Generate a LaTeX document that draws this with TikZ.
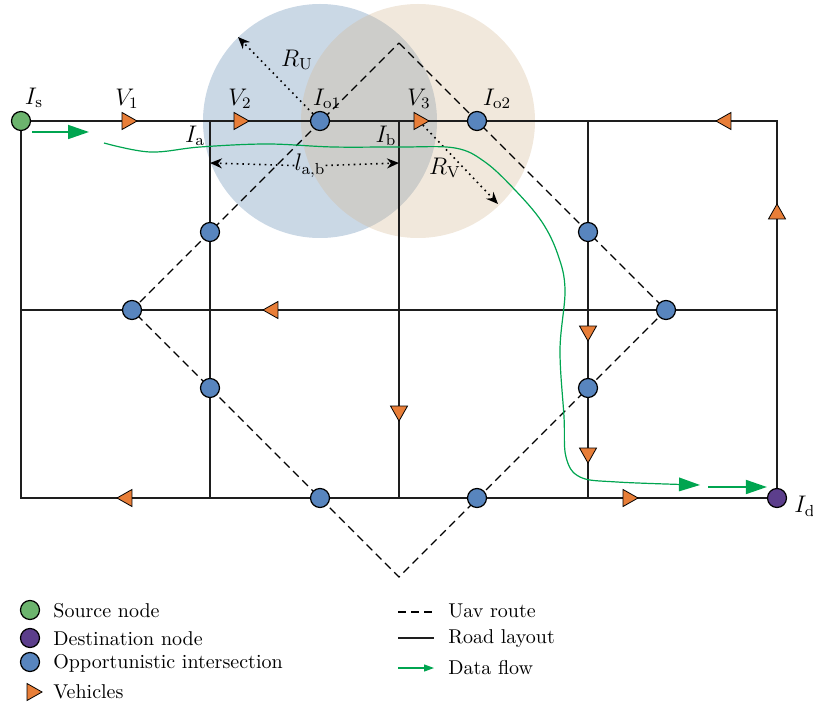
\documentclass[tikz,border=0pt]{standalone}
\usetikzlibrary{shapes.geometric,arrows.meta}

\definecolor{hubblue}{RGB}{88,133,190}
\definecolor{srcgreen}{RGB}{108,180,110}
\definecolor{dstpurple}{RGB}{92,62,140}
\definecolor{carorange}{RGB}{232,126,56}
\definecolor{flowgreen}{RGB}{0,165,80}
\definecolor{roadgray}{RGB}{30,30,30}
\definecolor{uavblue}{RGB}{60,110,160}
\definecolor{vehbeige}{RGB}{210,180,140}

\begin{document}
\begin{tikzpicture}[x=0.5pt, y=-0.5pt,
                road/.style={line width=1pt, roadgray},
                uav/.style={line width=0.6pt, dash pattern=on 4pt off 2.5pt},
                ring/.style={dotted, line width=0.8pt, -{Stealth[length=6pt,width=5pt]}},
                flow/.style={flowgreen, line width=0.9pt},
                hub/.style={
                    draw, circle, minimum size=9.5pt, inner sep=0pt,
                    line width=0.6pt, fill=hubblue
                },
                car/.style={
                    draw, isosceles triangle, isosceles triangle stretches,
                    minimum width=8.5pt, minimum height=7.5pt, inner sep=0pt,
                    line width=0.4pt, fill=carorange
                },
                lab/.style={font=\fontsize{12}{14}\selectfont, inner sep=0pt},
                legtext/.style={font=\fontsize{10}{12}\selectfont, anchor=west, inner sep=0pt}
            ]
            \useasboundingbox (0,0) rectangle (813,705);

            % coverage ranges
            \fill[uavblue, opacity=0.27] (320,121) circle (117);
            \fill[vehbeige, opacity=0.3] (418,121) circle (117);

            % uav route
            \draw[uav] (399,43) -- (666,310) -- (399,577) -- (132,310) -- cycle;

            % road layout
            \draw[road] (21,121) -- (777,121) -- (777,498) -- (21,498) -- cycle;
            \draw[road] (21,310) -- (777,310);
            \draw[road] (210,121) -- (210,498);
            \draw[road] (399,121) -- (399,498);
            \draw[road] (588,121) -- (588,498);

            % nodes
            \node[hub, fill=srcgreen] (Is) at (21,121) {};
            \node[hub, fill=dstpurple] (Id) at (777,498) {};
            \node[hub] (Io1) at (320,121) {};
            \node[hub] (Io2) at (477,121) {};
            \node[hub] (H1) at (210,232) {};
            \node[hub] (H2) at (588,232) {};
            \node[hub] (H3) at (132,310) {};
            \node[hub] (H4) at (666,310) {};
            \node[hub] (H5) at (210,388) {};
            \node[hub] (H6) at (588,388) {};
            \node[hub] (H7) at (320,498) {};
            \node[hub] (H8) at (477,498) {};

            % vehicles
            \node[car] (V1) at (127,121) {};
            \node[car] (V2) at (239,121) {};
            \node[car] (V3) at (419,121) {};
            \node[car, shape border rotate=180] (C4) at (726,121) {};
            \node[car, shape border rotate=90] (C5) at (777,214) {};
            \node[car, shape border rotate=180] (C6) at (273,310) {};
            \node[car, shape border rotate=270] (C7) at (399,411) {};
            \node[car, shape border rotate=270] (C8) at (588,331) {};
            \node[car, shape border rotate=270] (C9) at (588,453) {};
            \node[car, shape border rotate=180] (C10) at (127,498) {};
            \node[car] (C11) at (628,498) {};

            % labels
            \node[lab] (tIs) at (34,98) {$I_{\mathrm{s}}$};
            \node[lab] (tV1) at (127,99) {$V_1$};
            \node[lab] (tV2) at (240,99) {$V_2$};
            \node[lab] (tIo1) at (327,99) {$I_{\mathrm{o1}}$};
            \node[lab] (tV3) at (419,99) {$V_3$};
            \node[lab] (tIo2) at (497,99) {$I_{\mathrm{o2}}$};
            \node[lab] (tIa) at (195,136) {$I_{\mathrm{a}}$};
            \node[lab] (tIb) at (386,136) {$I_{\mathrm{b}}$};
            \node[lab] (tRU) at (297,60) {$R_{\mathrm{U}}$};
            \node[lab] (tRV) at (445,168) {$R_{\mathrm{V}}$};
            \node[lab] (tlab) at (310,166) {$l_{\mathrm{a,b}}$};
            \node[lab, anchor=west] (tId) at (794,506) {$I_{\mathrm{d}}$};

            % ranges
            \coordinate (RUend) at (238,37);
            \coordinate (RVend) at (498,204);
            \coordinate (la) at (210,163);
            \coordinate (lb) at (399,163);
            \draw[ring] (Io1) -- (RUend);
            \draw[ring] (V3) -- (RVend);
            \draw[ring] (tlab) -- (la);
            \draw[ring] (tlab) -- (lb);

            % data flow
            \coordinate (F0) at (32,132);
            \coordinate (F1) at (89,132);
            \draw[flow, -{Triangle[length=10.5pt,width=7pt]}] (F0) -- (F1);
            \draw[flow, line width=0.6pt, -{Triangle[length=10.5pt,width=7pt,line width=0pt]}]
                plot[smooth, tension=0.6] coordinates {(104,143) (150,152) (200,147) (267,144)
                (333,147) (400,147) (455,148) (485,162) (515,190) (542,222) (558,255)
                (565,290) (560,350) (564,417) (566,457) (580,477) (617,482) (700,485)};
            \coordinate (F2) at (708,487);
            \draw[flow, -{Triangle[length=10.5pt,width=7pt]}] (F2) -- (Id.west|-F2);

            % legend
            \node[hub, fill=srcgreen] (LS) at (30,610) {};
            \node[hub, fill=dstpurple] (LD) at (30,638) {};
            \node[hub] (LO) at (30,662) {};
            \node[car] (LV) at (32,692) {};
            \node[legtext] (tLS) at (53,611) {Source node};
            \node[legtext] (tLD) at (53,639) {Destination node};
            \node[legtext] (tLO) at (53,663) {Opportunistic intersection};
            \node[legtext] (tLV) at (53,692) {Vehicles};

            \coordinate (LU0) at (398,612);
            \coordinate (LU1) at (434,612);
            \coordinate (LR0) at (398,638);
            \coordinate (LR1) at (434,638);
            \coordinate (LF0) at (398,668);
            \coordinate (LF1) at (434,668);
            \draw[uav] (LU0) -- (LU1);
            \draw[road, line width=0.7pt] (LR0) -- (LR1);
            \draw[flow, line width=0.6pt, -{Triangle[length=5pt,width=3.5pt]}] (LF0) -- (LF1);
            \node[legtext] (tLU) at (448,611) {Uav route};
            \node[legtext] (tLR) at (448,639) {Road layout};
            \node[legtext] (tLF) at (448,668) {Data flow};
            \end{tikzpicture}
\end{document}
